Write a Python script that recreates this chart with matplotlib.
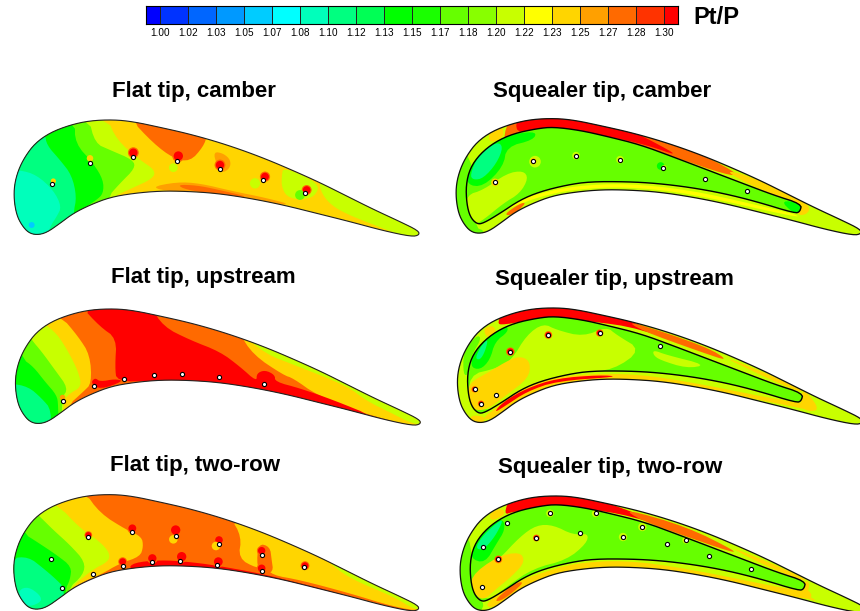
import matplotlib
matplotlib.use('Agg')
import matplotlib.pyplot as plt
from matplotlib.colors import ListedColormap, BoundaryNorm
from matplotlib.patches import Polygon

plt.rcParams['font.family'] = ['Liberation Sans', 'DejaVu Sans']

# colour bar
levels = [1.00, 1.02, 1.03, 1.05, 1.07, 1.08, 1.10, 1.12, 1.13, 1.15,
          1.17, 1.18, 1.20, 1.22, 1.23, 1.25, 1.27, 1.28, 1.30]
level_labels = ['%.2f' % v for v in levels]
band_colors = ['#0000ff', '#0033ff', '#0066ff', '#0099ff', '#00ccff', '#00ffff', '#00ffbb',
               '#00ff80', '#00ff55', '#00ff00', '#1aff00', '#66ff00', '#88ff00', '#c8ff00',
               '#ffff00', '#ffd500', '#ffa000', '#ff6a00', '#ff3300', '#ff0000']
cmap = ListedColormap(band_colors)
norm = BoundaryNorm(levels, cmap.N, extend='both')

# Pt/P
CYAN, SPRING, GREEN, LIME, YGREEN, YELLOW, GOLD, AMBER, ORANGE, RED = (
    1.09, 1.11, 1.14, 1.175, 1.21, 1.225, 1.24, 1.26, 1.275, 1.31)

# blade outlines, picture units (3 per pixel)
blade = [(110, 405), (85, 398), (65, 375), (50, 345), (42, 300), (43, 255), (55, 210), (75, 170),
         (105, 130), (150, 98), (210, 75), (270, 62), (340, 59), (400, 65), (480, 82), (560, 100),
         (640, 122), (720, 148), (800, 178), (880, 212), (960, 248), (1040, 288), (1120, 328),
         (1200, 365), (1255, 392), (1258, 405), (1235, 410), (1150, 392), (1050, 365), (950, 340),
         (850, 315), (750, 295), (650, 280), (560, 274), (480, 273), (400, 280), (330, 292),
         (270, 315), (220, 340), (180, 370), (140, 398)]
rim = [(104, 376), (84, 354), (74, 314), (72, 259), (84, 209), (114, 166), (159, 130), (214, 105),
       (284, 90), (334, 85), (414, 95), (494, 113), (594, 138), (694, 175), (794, 213), (894, 251),
       (994, 289), (1079, 316), (1074, 339), (1059, 344), (944, 309), (844, 284), (744, 266),
       (644, 254), (554, 249), (444, 249), (374, 259), (294, 279), (234, 304), (174, 344), (124, 374)]

# flat tip, camber
fc_base = GOLD
fc_regions = [
    (YGREEN, [(850, 200), (960, 250), (945, 290), (900, 300), (860, 290), (845, 260), (845, 230)]),
    (YGREEN, [(960, 235), (1060, 285), (1280, 385), (1240, 420), (1130, 378), (1030, 338), (985, 308), (960, 270)]),
    (ORANGE, [(385, 50), (460, 130), (520, 175), (570, 185), (610, 140), (622, 105), (500, 50)]),
    (AMBER, [(640, 155), (670, 160), (692, 180), (690, 205), (665, 220), (650, 195)]),
    (AMBER, [(450, 262), (530, 246), (600, 250), (700, 274), (800, 294), (880, 316), (780, 308), (650, 284), (520, 276)]),
    (ORANGE, [(530, 254), (590, 256), (650, 268), (760, 294), (650, 282), (560, 270)]),
    (YGREEN, [(320, 50), (350, 120), (420, 180), (465, 210), (460, 235), (395, 265), (330, 295), (330, 440), (0, 440), (0, 0)]),
    (LIME, [(265, 50), (285, 130), (330, 150), (400, 180), (405, 205), (360, 250), (320, 295), (320, 440), (0, 440), (0, 0)]),
    (GREEN, [(225, 60), (225, 130), (280, 190), (310, 240), (310, 280), (290, 300), (220, 345), (220, 440), (0, 440), (0, 0)]),
    (SPRING, [(135, 100), (140, 135), (180, 180), (215, 225), (230, 290), (220, 340), (220, 440), (0, 440), (0, 0)]),
    (CYAN, [(0, 210), (60, 210), (110, 225), (160, 270), (185, 320), (170, 350), (150, 380), (130, 440), (0, 440)]),
]
fc_spots = [(95, 375, 18, 1.06), (160, 243, 14, GOLD), (270, 175, 22, GOLD),
            (400, 158, 36, RED), (520, 203, 40, YGREEN), (535, 168, 45, RED), (660, 195, 36, RED),
            (765, 250, 55, YGREEN), (795, 230, 32, RED), (900, 285, 50, LIME), (920, 270, 30, RED)]
fc_holes = [(157, 253), (270, 188), (400, 172), (531, 183), (661, 207), (788, 240), (915, 278)]

# flat tip, upstream
fu_base = ORANGE
fu_regions = [
    (GOLD, [(715, 110), (760, 180), (850, 240), (880, 250), (950, 300), (1080, 352), (1240, 395), (1290, 390), (1000, 180)]),
    (YGREEN, [(715, 110), (800, 178), (870, 205), (1040, 272), (1100, 318), (1170, 352), (1240, 388), (1290, 390), (1200, 280), (900, 130)]),
    (RED, [(240, 30), (450, 30), (490, 95), (570, 135), (660, 170), (720, 215), (770, 260), (770, 235), (795, 225),
           (825, 240), (825, 260), (900, 280), (1000, 315), (1130, 368), (1000, 352), (800, 300), (650, 266),
           (460, 258), (350, 260), (345, 215), (350, 130), (300, 95)]),
    (RED, [(272, 264), (285, 248), (300, 260), (345, 252), (372, 258), (300, 284)]),
    (GOLD, [(180, 60), (235, 125), (270, 180), (275, 265), (250, 290), (200, 335), (200, 440), (0, 440), (0, 0)]),
    (YGREEN, [(130, 85), (170, 115), (205, 170), (235, 230), (245, 275), (210, 295), (190, 315), (190, 440), (0, 440), (0, 0)]),
    (LIME, [(95, 135), (125, 170), (165, 225), (205, 280), (185, 310), (185, 440), (0, 440), (0, 0)]),
    (GREEN, [(65, 190), (100, 215), (135, 260), (170, 300), (175, 330), (175, 440), (0, 440), (0, 0)]),
    (SPRING, [(30, 265), (85, 275), (125, 310), (155, 345), (150, 440), (0, 440), (0, 265)]),
]
fu_spots = [(186, 305, 16, AMBER)]
fu_holes = [(188, 318), (283, 273), (373, 251), (461, 240), (547, 238), (656, 246), (791, 268)]

# flat tip, two-row
ft_base = ORANGE
ft_regions = [
    (GOLD, [(690, 110), (725, 170), (715, 235), (770, 265), (800, 260), (815, 285), (900, 300), (1050, 340),
            (1180, 380), (1270, 395), (1280, 340), (900, 150)]),
    (ORANGE, [(775, 190), (810, 200), (815, 240), (820, 275), (790, 285), (770, 260)]),
    (YGREEN, [(960, 215), (1000, 260), (1060, 300), (1180, 350), (1250, 392), (1290, 390), (1270, 330), (1000, 200)]),
    (RED, [(385, 268), (400, 248), (480, 240), (560, 245), (640, 255), (780, 280), (900, 310), (1000, 335), (1110, 370), (1000, 352), (780, 302), (640, 280), (460, 272)]),
    (GOLD, [(250, 30), (300, 100), (380, 150), (425, 170), (430, 200), (420, 230), (360, 250), (300, 285), (260, 300), (190, 340), (190, 440), (0, 440), (0, 0)]),
    (YGREEN, [(170, 70), (240, 145), (300, 185), (330, 220), (325, 245), (275, 270), (200, 335), (200, 440), (0, 440), (0, 0)]),
    (LIME, [(120, 110), (160, 150), (210, 195), (255, 245), (250, 285), (200, 330), (200, 440), (0, 440), (0, 0)]),
    (GREEN, [(70, 160), (110, 185), (170, 225), (215, 260), (210, 300), (195, 330), (195, 440), (0, 440), (0, 0)]),
    (SPRING, [(30, 235), (85, 230), (130, 265), (165, 295), (195, 325), (190, 440), (0, 440)]),
    (CYAN, [(55, 330), (85, 320), (120, 345), (125, 365), (90, 380), (60, 370)]),
]
ft_spots = [(265, 165, 18, RED), (397, 145, 32, RED), (527, 150, 45, RED), (520, 178, 38, GOLD), (657, 180, 30, RED),
            (648, 198, 38, GOLD), (785, 212, 28, RED), (915, 257, 24, RED), (368, 245, 24, RED), (457, 235, 36, RED),
            (545, 230, 45, RED), (655, 245, 40, RED), (785, 265, 30, RED)]
ft_holes = [(152, 238), (265, 172), (397, 156), (527, 168), (657, 192), (785, 224), (911, 262),
            (185, 324), (280, 281), (369, 259), (457, 247), (541, 244), (651, 254), (785, 274)]

# squealer tip, camber
sc_rim = [
    (LIME, [(0, 150), (100, 150), (100, 380), (140, 395), (100, 420), (0, 420)]),
    (GOLD, [(150, 85), (190, 80), (190, 115), (145, 130)]),
    (ORANGE, [(190, 130), (200, 70), (240, 50), (450, 50), (600, 95), (700, 130), (800, 170), (900, 225), (860, 225), (700, 170), (560, 125), (420, 100), (290, 95), (220, 110)]),
    (RED, [(225, 100), (235, 40), (450, 40), (520, 65), (640, 125), (720, 170), (620, 135), (500, 108), (400, 92), (290, 88)]),
    (GOLD, [(850, 210), (920, 225), (1100, 300), (1090, 320), (950, 265)]),
    (YELLOW, [(170, 340), (240, 300), (300, 280), (400, 258), (560, 250), (750, 270), (950, 315), (1075, 345), (1070, 352), (750, 280), (560, 260), (400, 268), (300, 290), (240, 312)]),
    (GOLD, [(1075, 310), (1100, 310), (1110, 330), (1095, 345), (1070, 345)]),
    (ORANGE, [(190, 345), (240, 310), (260, 308), (220, 345)]),
]
sc_inner_base = LIME
sc_inner = [
    (GREEN, [(80, 255), (85, 205), (125, 150), (180, 115), (230, 100), (290, 95), (280, 120), (200, 140), (190, 200), (130, 260)]),
    (SPRING, [(90, 225), (115, 165), (170, 125), (190, 140), (170, 190), (130, 235), (100, 240)]),
    (YGREEN, [(80, 285), (130, 270), (200, 220), (250, 212), (265, 235), (240, 280), (190, 310), (130, 360), (100, 375), (75, 340)]),
    (GREEN, [(1020, 300), (1090, 310), (1085, 340), (1060, 340)]),
]
sc_spots = [(165, 247, 30, GOLD), (285, 185, 70, YGREEN), (280, 183, 22, GOLD), (408, 167, 30, YGREEN),
            (540, 179, 30, YGREEN), (662, 198, 30, GREEN), (672, 203, 14, YGREEN)]
sc_holes = [(165, 247), (279, 182), (408, 167), (540, 179), (669, 203), (796, 236), (921, 273)]

# squealer tip, upstream
su_rim = [
    (LIME, [(70, 170), (110, 120), (125, 130), (95, 180), (85, 240), (70, 240)]),
    (GOLD, [(130, 100), (160, 90), (170, 115), (140, 130)]),
    (GOLD, [(90, 360), (140, 365), (125, 390), (95, 385)]),
    (RED, [(170, 85), (200, 30), (450, 30), (560, 75), (700, 130), (800, 175), (600, 100), (450, 78), (300, 70), (190, 90)]),
    (ORANGE, [(560, 75), (800, 155), (870, 200), (780, 170), (600, 105)]),
    (GOLD, [(830, 175), (1090, 280), (1085, 295), (950, 235)]),
    (GOLD, [(120, 375), (180, 330), (260, 270), (380, 240), (560, 235), (720, 255), (1070, 325), (1100, 320), (1130, 350), (1060, 335), (720, 268), (500, 255), (350, 270), (250, 310), (170, 370)]),
    (RED, [(160, 355), (190, 320), (260, 280), (350, 250), (480, 240), (540, 245), (350, 258), (260, 290), (200, 330)]),
    (GOLD, [(1085, 290), (1100, 290), (1140, 345), (1100, 350), (1080, 325)]),
]
su_inner_base = LIME
su_inner = [
    (YGREEN, [(310, 85), (350, 105), (430, 125), (500, 95), (530, 120), (605, 165), (520, 225), (430, 230), (330, 250), (270, 270),
              (200, 310), (160, 345), (90, 340), (85, 240), (170, 220), (215, 195), (260, 120)]),
    (YGREEN, [(640, 165), (680, 180), (800, 210), (740, 220), (660, 195), (640, 180)]),
    (GOLD, [(85, 265), (140, 235), (215, 190), (250, 185), (272, 205), (265, 250), (200, 300), (140, 345), (100, 345), (85, 320)]),
    (GREEN, [(90, 215), (105, 165), (140, 120), (200, 90), (205, 110), (165, 140), (150, 195), (120, 225)]),
    (SPRING, [(105, 190), (125, 150), (145, 130), (135, 170), (120, 195)]),
]
su_spots = [(325, 120, 18, RED), (479, 114, 16, RED), (211, 170, 22, RED), (104, 283, 12, RED), (123, 326, 12, RED)]
su_holes = [(325, 120), (479, 114), (661, 152), (211, 170), (104, 283), (167, 301), (123, 326)]

# squealer tip, two-row
st_rim = [
    (LIME, [(0, 150), (95, 150), (95, 350), (140, 370), (100, 420), (0, 420)]),
    (GOLD, [(150, 95), (190, 85), (195, 105), (150, 125)]),
    (RED, [(190, 105), (215, 40), (420, 40), (520, 75), (640, 120), (760, 165), (650, 130), (500, 92), (330, 80), (220, 95)]),
    (ORANGE, [(550, 85), (740, 140), (890, 215), (870, 215), (740, 170), (600, 120)]),
    (GOLD, [(850, 190), (1100, 295), (1090, 305), (950, 245)]),
    (GOLD, [(130, 375), (220, 310), (300, 280), (400, 250), (550, 240), (740, 265), (1080, 335), (1100, 325), (1120, 350), (1090, 360), (740, 280), (500, 262), (330, 290), (230, 335), (165, 385)]),
    (ORANGE, [(160, 365), (210, 320), (240, 305), (250, 310), (190, 360)]),
    (GOLD, [(1095, 300), (1110, 310), (1100, 345), (1135, 365), (1095, 355), (1085, 330)]),
]
st_inner_base = LIME
st_inner = [
    (YGREEN, [(100, 295), (175, 240), (240, 170), (290, 135), (340, 135), (400, 165), (445, 160), (440, 190), (380, 240), (280, 265), (200, 320), (150, 360), (110, 345)]),
    (GOLD, [(90, 290), (170, 230), (240, 215), (255, 245), (220, 285), (165, 330), (130, 362), (100, 340)]),
    (GREEN, [(90, 235), (100, 185), (140, 130), (190, 115), (195, 150), (170, 190), (135, 250)]),
    (SPRING, [(105, 205), (130, 165), (175, 125), (190, 120), (165, 170), (130, 210)]),
]
st_spots = [(330, 100, 30, YGREEN), (467, 100, 30, YGREEN), (175, 238, 18, RED), (289, 174, 14, RED), (549, 171, 36, YGREEN),
            (607, 141, 36, YGREEN), (738, 180, 28, YGREEN)]
st_holes = [(330, 100), (467, 100), (200, 130), (130, 202), (175, 238), (289, 174), (419, 158), (127, 321),
            (549, 171), (607, 141), (680, 193), (738, 180), (807, 227), (932, 266)]

W, H = 860, 611
fig = plt.figure(figsize=(W / 100, H / 100), dpi=100)


def pixel_axes(x, y, w, h):
    ax = fig.add_axes([x / W, 1 - (y + h) / H, w / W, h / H])
    ax.axis('off')
    return ax


def color_of(v):
    return cmap(norm(v))


def shifted(points, dx, dy):
    return [(p[0] + dx, p[1] + dy) for p in points]


# corner cutting, the contour lines in the picture are round
def rounded(points, n=2):
    for _ in range(n):
        out = []
        for i in range(len(points)):
            a = points[i]
            b = points[(i + 1) % len(points)]
            out.append((0.75 * a[0] + 0.25 * b[0], 0.75 * a[1] + 0.25 * b[1]))
            out.append((0.25 * a[0] + 0.75 * b[0], 0.25 * a[1] + 0.75 * b[1]))
        points = out
    return points


def paint(ax, regions, clip):
    for value, points in regions:
        patch = Polygon(rounded(points), closed=True, facecolor=color_of(value), edgecolor='none', zorder=2)
        ax.add_patch(patch)
        patch.set_clip_path(clip)


def spots_and_holes(ax, spots, holes, clip):
    # red spots sit in a thin halo
    hot = [s for s in spots if s[3] == RED]
    if hot:
        halo = ax.scatter([s[0] for s in hot], [s[1] for s in hot], s=[s[2] * 1.7 for s in hot],
                          color=color_of(ORANGE), linewidths=0, zorder=3)
        halo.set_clip_path(clip)
    sc = ax.scatter([s[0] for s in spots], [s[1] for s in spots], s=[s[2] for s in spots],
                    color=[color_of(s[3]) for s in spots], linewidths=0, zorder=3)
    sc.set_clip_path(clip)
    ax.scatter([h[0] for h in holes], [h[1] for h in holes], s=9, color='white',
               edgecolors='black', linewidths=0.8, zorder=6)


def flat_panel(box, offset, base, regions, spots, holes):
    ax = pixel_axes(*box)
    ax.set_xlim(0, box[2] * 3)
    ax.set_ylim(box[3] * 3, 0)
    shape = rounded(shifted(blade, *offset))
    outline = Polygon(shape, closed=True, facecolor=color_of(base), edgecolor='none', zorder=1)
    ax.add_patch(outline)
    paint(ax, regions, outline)
    spots_and_holes(ax, spots, holes, outline)
    ax.add_patch(Polygon(shape, closed=True, fill=False, edgecolor='#222222', linewidth=0.8, zorder=5))


def squealer_panel(box, offset, rim_regions, inner_base, inner_regions, spots, holes):
    ax = pixel_axes(*box)
    ax.set_xlim(0, box[2] * 3)
    ax.set_ylim(box[3] * 3, 0)
    shape = rounded(shifted(blade, *offset))
    rim_shape = rounded(shifted(rim, *offset))
    outline = Polygon(shape, closed=True, facecolor=color_of(YGREEN), edgecolor='none', zorder=1)
    ax.add_patch(outline)
    paint(ax, rim_regions, outline)
    inner = Polygon(rim_shape, closed=True, facecolor=color_of(inner_base), edgecolor='none', zorder=2)
    ax.add_patch(inner)
    paint(ax, inner_regions, inner)
    spots_and_holes(ax, spots, holes, inner)
    ax.add_patch(Polygon(rim_shape, closed=True, fill=False, edgecolor='black', linewidth=1.0, zorder=5))
    ax.add_patch(Polygon(shape, closed=True, fill=False, edgecolor='#111111', linewidth=0.9, zorder=5))


flat_panel((0, 100, 430, 145), (0, 0), fc_base, fc_regions, fc_spots, fc_holes)
flat_panel((0, 295, 430, 140), (4, -18), fu_base, fu_regions, fu_spots, fu_holes)
flat_panel((0, 480, 430, 131), (-1, -16), ft_base, ft_regions, ft_spots, ft_holes)
squealer_panel((440, 100, 420, 145), (6, -4), sc_rim, sc_inner_base, sc_inner, sc_spots, sc_holes)
squealer_panel((440, 295, 420, 140), (10, -21), su_rim, su_inner_base, su_inner, su_spots, su_holes)
squealer_panel((440, 480, 420, 131), (18, -12), st_rim, st_inner_base, st_inner, st_spots, st_holes)

# colour bar with band values
cax = fig.add_axes([146 / W, 1 - 24 / H, 532 / W, 18 / H])
edges = [-0.5] + [i for i in range(len(levels))] + [len(levels) - 0.5]
band_values = [levels[0] - 0.01] + [(a + b) / 2 for a, b in zip(levels[:-1], levels[1:])] + [levels[-1] + 0.01]
cax.pcolormesh(edges, [0, 1], [band_values], cmap=cmap, norm=norm, edgecolors='#222222', linewidth=0.6)
cax.set_yticks([])
cax.set_xticks(range(len(levels)))
cax.set_xticklabels(level_labels, fontsize=7.2)
cax.tick_params(axis='x', length=0, pad=3)
for side in cax.spines.values():
    side.set_linewidth(0.8)

fig.text(716 / W, 1 - 18 / H, 'Pt/P', fontsize=17, fontweight='bold', ha='center', va='center')

titles = ['Flat tip, camber', 'Squealer tip, camber', 'Flat tip, upstream',
          'Squealer tip, upstream', 'Flat tip, two-row', 'Squealer tip, two-row']
title_x = [194, 602, 203, 614, 195, 610]
title_y = [91, 91, 278, 280, 466, 468]
for t, x, y in zip(titles, title_x, title_y):
    fig.text(x / W, 1 - y / H, t, fontsize=16, fontweight='bold', ha='center', va='center')

fig.savefig('out.png', dpi=100)
